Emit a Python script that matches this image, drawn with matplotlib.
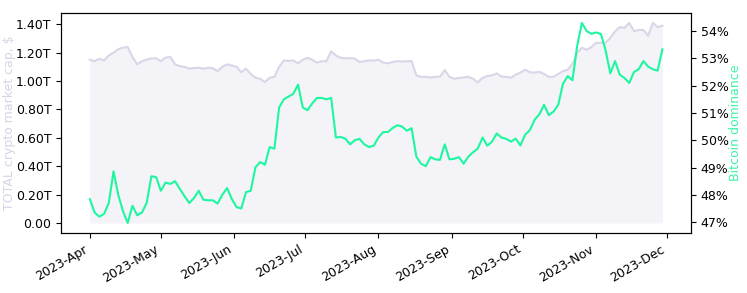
import numpy as np
import pandas as pd
import matplotlib as mpl
mpl.use("Agg")
import matplotlib.pyplot as plt
import matplotlib.dates as mdates
from matplotlib.ticker import FuncFormatter

mpl.rcParams["figure.figsize"] = [7.47, 2.93]
mpl.rcParams["figure.dpi"] = 100
mpl.rcParams["font.size"] = 9

# every second day, 2023-04-01 .. 2023-11-30
dates = pd.date_range("2023-04-01", periods=122, freq="2D")

# total crypto market cap, trillions of $
total_cap = [
    1.15, 1.14, 1.157, 1.145, 1.18, 1.20, 1.225, 1.235, 1.24, 1.17,
    1.118, 1.14, 1.15, 1.16, 1.16, 1.14, 1.165, 1.17, 1.118, 1.105,
    1.10, 1.087, 1.092, 1.094, 1.087, 1.094, 1.09, 1.07, 1.10, 1.118,
    1.11, 1.10, 1.063, 1.087, 1.05, 1.023, 1.016, 0.993, 1.023, 1.03,
    1.10, 1.145, 1.142, 1.145, 1.125, 1.15, 1.164, 1.15, 1.13, 1.14,
    1.14, 1.21, 1.18, 1.164, 1.16, 1.162, 1.158, 1.134, 1.14, 1.145,
    1.145, 1.15, 1.13, 1.125, 1.135, 1.14, 1.138, 1.14, 1.14, 1.04,
    1.03, 1.03, 1.025, 1.03, 1.03, 1.077, 1.03, 1.016, 1.022, 1.025,
    1.03, 1.016, 0.99, 1.023, 1.035, 1.04, 1.054, 1.032, 1.03, 1.023,
    1.045, 1.06, 1.08, 1.062, 1.06, 1.065, 1.05, 1.03, 1.03, 1.05,
    1.07, 1.08, 1.12, 1.20, 1.235, 1.22, 1.24, 1.27, 1.27, 1.27,
    1.305, 1.35, 1.38, 1.375, 1.41, 1.352, 1.36, 1.36, 1.32, 1.41,
    1.38, 1.39,
]

# bitcoin dominance, %
btc_dom = [
    47.84, 47.35, 47.2, 47.3, 47.7, 48.86, 48.0, 47.4, 46.97, 47.6,
    47.25, 47.35, 47.7, 48.68, 48.65, 48.15, 48.45, 48.4, 48.5, 48.22,
    47.95, 47.7, 47.88, 48.15, 47.82, 47.8, 47.8, 47.68, 48.0, 48.25,
    47.85, 47.55, 47.5, 48.1, 48.15, 49.01, 49.2, 49.1, 49.75, 49.69,
    51.2, 51.5, 51.6, 51.7, 52.04, 51.2, 51.1, 51.35, 51.55, 51.55,
    51.5, 51.55, 50.1, 50.12, 50.06, 49.85, 50.0, 50.05, 49.85, 49.75,
    49.8, 50.1, 50.3, 50.3, 50.45, 50.55, 50.5, 50.35, 50.44, 49.4,
    49.14, 49.05, 49.38, 49.3, 49.28, 49.85, 49.3, 49.32, 49.38, 49.14,
    49.4, 49.56, 49.7, 50.1, 49.8, 49.95, 50.25, 50.1, 50.05, 49.95,
    50.06, 49.81, 50.2, 50.37, 50.75, 50.95, 51.3, 50.92, 51.05, 51.3,
    52.07, 52.35, 52.2, 53.46, 54.3, 54.0, 53.9, 53.95, 53.9, 53.3,
    52.45, 52.9, 52.4, 52.28, 52.1, 52.5, 52.6, 52.9, 52.7, 52.6,
    52.55, 53.33,
]

cap = np.array(total_cap) * 1e12
dom = np.array(btc_dom)

fig, ax = plt.subplots()
fig.subplots_adjust(left=0.082, right=0.925, top=0.956, bottom=0.205)

ax.fill_between(dates, 0, cap, color="#f3f3f8", linewidth=0)
ax.plot(dates, cap, color="#d8d6e7", linewidth=1.5)
ax.set_ylabel("TOTAL crypto market cap, $", color="#d6d4e6", labelpad=0)
ax.yaxis.set_major_formatter(
    FuncFormatter(lambda v, p: "0.00" if v == 0 else f"{v / 1e12:.2f}T")
)
ax.set_yticks(np.arange(0, 1.41e12, 0.2e12))

ax2 = ax.twinx()
ax2.plot(dates, dom, color="#1ef7a0", linewidth=1.5)
ax2.set_ylabel("Bitcoin dominance", color="#3cf5a8", labelpad=0)
ax2.yaxis.set_major_formatter(FuncFormatter(lambda v, p: f"{v:.0f}%"))
ax2.set_yticks(np.arange(47, 55, 1))

ax.xaxis.set_major_locator(mdates.MonthLocator())
ax.xaxis.set_major_formatter(mdates.DateFormatter("%Y-%b"))
plt.setp(ax.get_xticklabels(), rotation=30, ha="right")

fig.savefig("out.png", dpi=100)
